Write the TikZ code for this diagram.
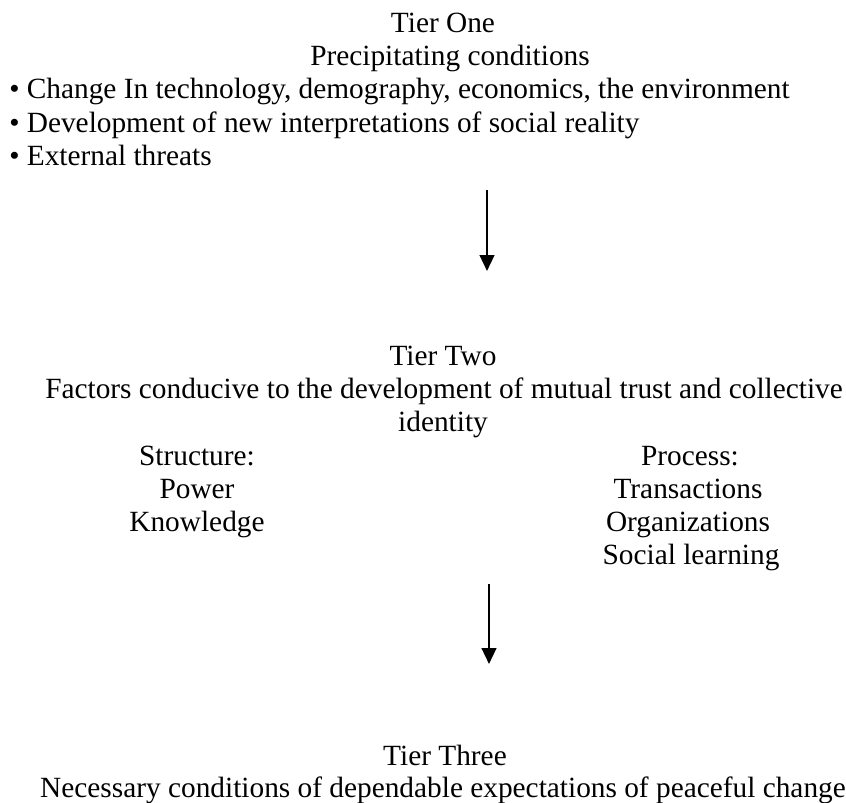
\documentclass[tikz,border=0pt]{standalone}
\usepackage{fontspec}
\setmainfont{Liberation Serif}
\usetikzlibrary{arrows.meta}
\begin{document}
\begin{tikzpicture}[x=0.75pt,y=-0.75pt,
  txt/.style={inner sep=0pt,anchor=base,font=\fontsize{22}{33}\selectfont},
  flow/.style={line width=1.8pt,-{Triangle[length=12pt,width=11pt]}}]
\useasboundingbox (0,0) rectangle (846,803);
% Tier one
\node[txt] (t1a) at (443,32) {Tier One};
\node[txt] (t1b) at (450,65) {Precipitating conditions};
\node[txt,anchor=base west] (b1) at (9,98) {\textbullet\ Change In technology, demography, economics, the environment};
\node[txt,anchor=base west] (b2) at (9,132) {\textbullet\ Development of new interpretations of social reality};
\node[txt,anchor=base west] (b3) at (9,165) {\textbullet\ External threats};
% first arrow
\coordinate (a1s) at (487,190);
\coordinate (a1e) at (487,271);
\draw[flow] (a1s) -- (a1e);
% Tier two
\node[txt] (t2a) at (443,365) {Tier Two};
\node[txt] (t2b) at (444,398) {Factors conducive to the development of mutual trust and collective};
\node[txt] (t2c) at (443,431.5) {identity};
\node[txt] (s0) at (197,465) {Structure:};
\node[txt] (s1) at (197,498) {Power};
\node[txt] (s2) at (197,531) {Knowledge};
\node[txt] (p0) at (690,465) {Process:};
\node[txt] (p1) at (688,498) {Transactions};
\node[txt] (p2) at (688,531) {Organizations};
\node[txt] (p3) at (691,564) {Social learning};
% second arrow
\coordinate (a2s) at (489,584);
\coordinate (a2e) at (489,664);
\draw[flow] (a2s) -- (a2e);
% Tier three
\node[txt] (t3a) at (445,765) {Tier Three};
\node[txt] (t3b) at (443,797) {Necessary conditions of dependable expectations of peaceful change};
\end{tikzpicture}
\end{document}
